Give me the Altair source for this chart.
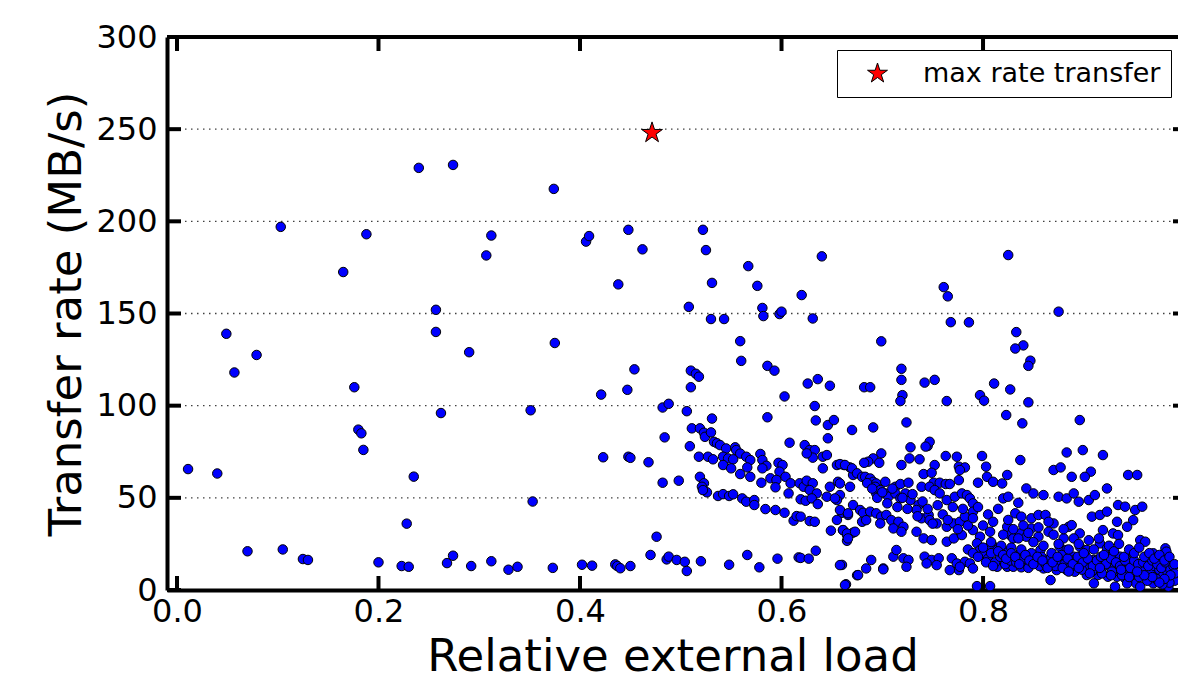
import altair as alt
import pandas as pd

# ---- data ----
load = [
    0.011, 0.04, 0.049, 0.057, 0.07, 0.079, 0.103, 0.105, 0.125, 0.13, 0.165, 0.176, 0.180, 0.183, 0.185, 0.188,
    0.2, 0.223, 0.23, 0.228, 0.235, 0.24, 0.257, 0.257, 0.262, 0.268, 0.274, 0.274, 0.29, 0.292, 0.307, 0.312,
    0.312, 0.329, 0.338, 0.351, 0.353, 0.373, 0.374, 0.375,
    0.406, 0.409, 0.448, 0.462, 0.438, 0.454, 0.421, 0.447, 0.423, 0.448, 0.45, 0.468, 0.482, 0.498, 0.482, 0.488,
    0.484, 0.402, 0.412, 0.435, 0.437, 0.44, 0.45, 0.47, 0.476, 0.486, 0.488, 0.496, 0.504, 0.506, 0.52,
    0.522, 0.525, 0.567, 0.531, 0.576, 0.64, 0.508, 0.581, 0.582, 0.53, 0.543, 0.559, 0.598, 0.6, 0.62, 0.631,
    0.56, 0.586, 0.593, 0.51, 0.515, 0.518, 0.51, 0.603, 0.626, 0.636, 0.648, 0.506, 0.531, 0.586, 0.633, 0.634,
    0.646, 0.652, 0.646, 0.67,
    0.511, 0.519, 0.523, 0.524, 0.53, 0.533, 0.536, 0.539, 0.545, 0.554, 0.555, 0.559, 0.565, 0.569, 0.579, 0.581,
    0.585, 0.509, 0.518, 0.527, 0.532, 0.542, 0.547, 0.552, 0.542, 0.55, 0.566, 0.581, 0.559, 0.569, 0.58, 0.519,
    0.523, 0.521, 0.526, 0.522, 0.537, 0.542, 0.548, 0.552, 0.561, 0.565, 0.573, 0.573, 0.584, 0.594, 0.603, 0.612,
    0.615, 0.619, 0.628, 0.633, 0.597, 0.601, 0.598, 0.589, 0.595, 0.604, 0.594, 0.607, 0.609, 0.608, 0.623, 0.628,
    0.633, 0.631, 0.625, 0.641, 0.645, 0.641, 0.655, 0.662, 0.668, 0.671, 0.618, 0.622, 0.625, 0.631, 0.628, 0.635,
    0.648, 0.656, 0.658, 0.655, 0.619, 0.624, 0.63, 0.636, 0.645, 0.653, 0.66, 0.666, 0.655, 0.649, 0.661, 0.665,
    0.665, 0.671,
    0.548, 0.566, 0.578, 0.596, 0.617, 0.619, 0.627, 0.634, 0.66, 0.664, 0.675,
    0.825, 0.761, 0.765, 0.875, 0.768, 0.786, 0.699, 0.833, 0.84, 0.832, 0.847, 0.845, 0.719, 0.719, 0.742, 0.752,
    0.682, 0.688, 0.72, 0.718, 0.764, 0.797, 0.801, 0.811, 0.827, 0.845, 0.823, 0.839, 0.896, 0.724, 0.691, 0.728,
    0.745, 0.747, 0.743, 0.699, 0.691, 0.686, 0.697, 0.682, 0.763, 0.774, 0.799, 0.837, 0.883, 0.899, 0.919, 0.727,
    0.737, 0.719, 0.752, 0.776, 0.782, 0.803, 0.87, 0.877, 0.907, 0.901, 0.888, 0.944, 0.953,
    0.658, 0.663, 0.670, 0.675, 0.680, 0.683, 0.688, 0.691, 0.694, 0.703, 0.713, 0.718, 0.726, 0.741, 0.749, 0.751,
    0.757, 0.763, 0.767, 0.776, 0.777, 0.795, 0.804, 0.810, 0.819, 0.824,
    0.658, 0.668, 0.693, 0.694, 0.698, 0.703, 0.706, 0.713, 0.718, 0.723, 0.728, 0.736, 0.739, 0.747, 0.752, 0.757,
    0.764, 0.772, 0.779, 0.784, 0.787, 0.790, 0.820, 0.825, 0.835, 0.843, 0.850, 0.860, 0.875, 0.883, 0.890, 0.895,
    0.905, 0.911, 0.923, 0.934, 0.941, 0.951, 0.958,
    0.658, 0.666, 0.671, 0.678, 0.681, 0.688, 0.694, 0.699, 0.704, 0.709, 0.716, 0.721, 0.734, 0.739, 0.746, 0.747,
    0.754, 0.764, 0.771, 0.777, 0.782, 0.790, 0.832, 0.838, 0.848, 0.855, 0.862, 0.870, 0.885, 0.908, 0.916, 0.923,
    0.933, 0.949,
    0.661, 0.665, 0.666, 0.673, 0.680, 0.684, 0.698, 0.711, 0.719, 0.734, 0.741, 0.749, 0.764, 0.771, 0.779, 0.790,
    0.797, 0.807, 0.809, 0.824, 0.827, 0.830, 0.837, 0.843, 0.848, 0.855, 0.865, 0.880, 0.888, 0.896, 0.919, 0.929,
    0.934, 0.943,
    0.658, 0.676, 0.684, 0.689, 0.701, 0.711, 0.714, 0.721, 0.726, 0.742, 0.749, 0.756, 0.769, 0.774, 0.776, 0.782,
    0.787, 0.790, 0.794, 0.797, 0.807, 0.814, 0.814, 0.820, 0.825, 0.830, 0.837, 0.843, 0.850, 0.857, 0.863, 0.870,
    0.876, 0.883, 0.890, 0.896, 0.903, 0.910, 0.916, 0.923, 0.929, 0.936, 0.943, 0.949, 0.956, 0.961, 0.969, 0.974,
    0.981, 0.982,
    0.663, 0.701, 0.724, 0.744, 0.754, 0.767, 0.777, 0.794, 0.807, 0.824, 0.830, 0.838, 0.848, 0.860, 0.867, 0.873,
    0.883, 0.891, 0.903, 0.914, 0.924, 0.933, 0.941, 0.949, 0.952, 0.959, 0.965, 0.972, 0.977, 0.982, 0.989, 0.910,
    0.931, 0.943, 0.956, 0.969, 0.984,
    0.80, 0.805, 0.812, 0.817, 0.822, 0.827, 0.833, 0.84, 0.845, 0.852, 0.856, 0.862, 0.867, 0.872, 0.877, 0.881,
    0.886, 0.892, 0.897, 0.901, 0.906, 0.911, 0.915, 0.92, 0.925, 0.93, 0.935, 0.939, 0.944, 0.948, 0.952, 0.957,
    0.961, 0.966, 0.97, 0.975, 0.979, 0.983, 0.987, 0.99, 0.985, 0.978, 0.972, 0.963, 0.955, 0.946, 0.938, 0.928,
    0.918, 0.908, 0.898, 0.888, 0.878, 0.868, 0.858, 0.848, 0.838, 0.828, 0.818, 0.808,
    0.785, 0.79, 0.795, 0.80, 0.803, 0.808, 0.81, 0.815, 0.82, 0.823, 0.828, 0.832, 0.836, 0.842, 0.846, 0.85,
    0.854, 0.859, 0.864, 0.869, 0.874, 0.879, 0.884, 0.889, 0.894, 0.899, 0.904, 0.909, 0.913, 0.917, 0.922, 0.927,
    0.932, 0.936, 0.941, 0.946, 0.95, 0.954, 0.959, 0.964, 0.968, 0.973, 0.977, 0.981, 0.986, 0.989, 0.99, 0.986,
    0.98, 0.975, 0.968, 0.96, 0.953, 0.945, 0.937, 0.927, 0.916, 0.906, 0.895, 0.885,
    0.685, 0.69, 0.695, 0.70, 0.705, 0.71, 0.715, 0.72, 0.725, 0.73, 0.735, 0.74, 0.745, 0.75, 0.755, 0.76,
    0.765, 0.77, 0.775, 0.78, 0.785, 0.79, 0.795, 0.80, 0.805, 0.81, 0.815, 0.82, 0.825, 0.83, 0.835, 0.84,
    0.845, 0.85, 0.855, 0.86, 0.865, 0.87, 0.875, 0.88, 0.885, 0.89, 0.895, 0.9, 0.905, 0.91, 0.915, 0.92,
    0.925, 0.93, 0.935, 0.94, 0.945, 0.95, 0.955, 0.96, 0.965, 0.97, 0.975, 0.98, 0.985, 0.99,
]
rate = [
    65.6, 63.2, 139, 118, 21, 127.5, 197, 22, 16.8, 16.3, 172.5, 110, 87, 85, 76, 193,
    15, 13, 12.6, 36, 61.5, 229, 152, 140, 96, 14.6, 18.6, 230.6, 129, 13, 181.5, 192.3,
    15.6, 11, 12.6, 97.5, 48, 12, 217.6, 134,
    189, 192, 195.4, 184.8, 165.8, 119.7, 106, 108.6, 72, 72.3, 71.7, 69.3, 58.2, 59.3, 99, 101,
    82.8, 13.7, 13.2, 13.9, 13, 11.8, 13, 19, 28.9, 16.6, 18.1, 16.3, 15.3, 10.3, 15.6,
    195.4, 184.4, 175.7, 166.6, 165, 181, 153.6, 153, 148.6, 147, 147, 135, 149.7, 151, 160, 147.3,
    124.3, 121.6, 119, 119, 117.3, 115.7, 110, 105, 112, 114.4, 110.8, 97, 93, 93.7, 99.8, 92,
    89.5, 92.2, 82.3, 86.8,
    87.7, 87.7, 85.3, 83.1, 85.5, 80.4, 79.6, 78.6, 76.8, 77.4, 75.9, 74, 72.3, 70.5, 73.8, 70.5,
    67.4, 78, 72.3, 72.3, 70.9, 72.3, 71.4, 70.9, 67.8, 66, 66.5, 66, 62.9, 61.4, 58.2, 61.4,
    57.9, 56, 53, 54.2, 51, 52, 51, 51.9, 49.7, 47.9, 48.8, 46.1, 43.9, 43.4, 41.9, 37.6,
    40.1, 39.8, 37.4, 37, 69, 67.8, 64.2, 60.6, 59.7, 61.4, 55.7, 52.4, 57.9, 79.9, 78.6, 75.9,
    75.9, 71.8, 74.1, 72.3, 73.2, 66, 67.8, 67.8, 66.5, 62.4, 57.9, 56, 59.3, 57.9, 54.2, 52.4,
    56, 58.7, 51.5, 48.8, 49.2, 48.4, 49.7, 46.6, 50.6, 49.7, 41.9, 40.7, 38, 32.2, 32.5, 29.8,
    26.7, 31.1,
    13.7, 19, 12.3, 17, 17.7, 17.4, 17, 21.3, 13.6, 3.1, 8,
    181.7, 164.3, 159.3, 151, 145.3, 145.2, 134.9, 139.9, 132.7, 131, 124.4, 121.6, 120, 114, 112.5, 114,
    110, 110, 105.7, 102.5, 102.5, 105.7, 102.7, 112, 108.8, 101.8, 94.9, 90.4, 92.2, 90.9, 88.2, 77.4,
    78.1, 80.4, 77.8, 74.1, 71.4, 69.6, 69, 69, 72.7, 72.3, 72.7, 70.5, 74.6, 75.9, 73.2, 71.4,
    70.9, 67.8, 67.8, 66.9, 66.5, 66.9, 65.1, 66.5, 64.2, 61.4, 61.4, 62.4, 62.4,
    68.3, 67.8, 66.0, 63.3, 61.4, 61.4, 60.5, 58.7, 57.8, 58.7, 56.0, 57.5, 58.2, 62.9, 63.6, 58.2,
    58.2, 57.5, 57.5, 59.6, 65.1, 58.2, 61.4, 58.7, 57.8, 62.4,
    57.8, 56.0, 56.0, 52.4, 54.2, 52.4, 50.6, 52.4, 49.7, 52.4, 48.8, 46.1, 56.0, 56.0, 54.2, 52.4,
    48.8, 50.6, 52.4, 51.5, 49.7, 47.0, 49.7, 50.6, 47.3, 55.1, 52.4, 51.5, 50.6, 49.7, 52.4, 47.9,
    48.8, 51.5, 55.1, 46.1, 45.2, 43.4, 45.2,
    43.4, 41.6, 46.1, 43.4, 41.9, 42.5, 41.6, 39.8, 40.7, 37.9, 37.0, 34.3, 43.4, 38.9, 40.7, 37.9,
    36.1, 34.3, 36.1, 37.0, 39.8, 42.5, 41.6, 39.8, 38.9, 40.7, 40.7, 36.1, 34.3, 39.8, 40.7, 42.5,
    37.0, 37.9,
    32.5, 30.7, 28.0, 31.6, 37.0, 37.9, 36.1, 33.4, 31.6, 31.6, 28.0, 27.1, 26.2, 28.0, 29.8, 32.5,
    28.9, 31.6, 24.4, 34.3, 29.8, 28.0, 30.7, 28.9, 33.4, 28.9, 31.6, 28.0, 35.2, 30.7, 32.5, 30.7,
    29.8, 34.3,
    13.5, 8.1, 11.7, 16.3, 11.7, 18.1, 21.7, 17.2, 16.3, 18.1, 16.3, 17.2, 17.2, 14.4, 10.8, 15.3,
    14.4, 11.7, 25.3, 21.7, 23.5, 21.7, 12.6, 16.3, 20.8, 18.1, 19.9, 14.4, 18.1, 21.7, 16.3, 14.4,
    23.5, 21.7, 18.1, 23.5, 21.7, 16.3, 25.3, 22.6, 19.9, 18.1, 16.3, 19.9, 27.1, 26.2, 19.9, 16.3,
    22.6, 20.8,
    2.7, 11.2, 12.6, 14.4, 13.5, 10.8, 12.6, 2.1, 2.1, 12.6, 12.6, 12.3, 14.4, 11.7, 5.4, 10.8,
    10.8, 9.9, 8.1, 8.1, 7.2, 7.2, 6.3, 8.1, 3.6, 10.8, 6.3, 9.9, 5.4, 7.2, 6.3, 3.6,
    1.8, 3.6, 1.8, 3.6, 1.8,
    19, 17, 15, 18, 14, 16, 15, 17, 12, 15, 13, 14, 17, 13, 16, 14,
    12, 15, 13, 16, 12, 14, 11, 13, 15, 12, 10, 13, 11, 14, 12, 9,
    12, 10, 13, 11, 8, 10, 7, 5, 4, 3, 6, 5, 7, 9, 8, 10,
    9, 10, 11, 16, 19, 20, 18, 20, 22, 23, 24, 26,
    22, 20, 18, 23, 15, 20, 13, 21, 19, 17, 20, 18, 14, 19, 16, 14,
    18, 16, 12, 15, 18, 12, 17, 14, 18, 15, 17, 13, 16, 18, 14, 17,
    15, 13, 16, 12, 16, 14, 15, 13, 16, 14, 12, 15, 11, 13, 9, 8,
    6, 4, 7, 8, 10, 7, 11, 8, 12, 9, 12, 10,
    58, 55, 50, 53, 47, 55, 45, 50, 44, 52, 40, 48, 44, 36, 46, 41,
    38, 45, 33, 44, 35, 39, 45, 35, 41, 37, 44, 30, 38, 33, 28, 35,
    31, 26, 34, 24, 37, 30, 25, 33, 22, 28, 25, 20, 27, 22, 28, 19,
    24, 21, 25, 18, 22, 20, 23, 18, 20, 17, 19, 16, 18, 14,
]

max_load = [0.4715]
max_rate = [248]
max_label = ["max rate transfer"]

y_ticks = [0, 50, 100, 150, 200, 250, 300]
y_grid = [50, 100, 150, 200, 250]
x_ticks = [0.0, 0.2, 0.4, 0.6, 0.8]

df = pd.DataFrame({"load": load, "rate": rate})
df_max = pd.DataFrame({"load": max_load, "rate": max_rate, "label": max_label})
df_yt = pd.DataFrame({"rate": y_ticks})
df_yg = pd.DataFrame({"rate": y_grid})
df_xt = pd.DataFrame({"load": x_ticks})

W, H = 1011, 553
FONT = "DejaVu Sans"
STAR = ("M0,-1L0.2245,-0.309L0.9511,-0.309L0.3633,0.118L0.5878,0.809L0,0.382"
        "L-0.5878,0.809L-0.3633,0.118L-0.9511,-0.309L-0.2245,-0.309Z")

xscale = alt.Scale(domain=[-0.0099, 0.9935], nice=False, zero=False)
yscale = alt.Scale(domain=[0, 300], nice=False)

xaxis = alt.Axis(
    orient="bottom", values=x_ticks, format=".1f", title="Relative external load",
    labelFontSize=32, titleFontSize=45, labelFont=FONT, titleFont=FONT,
    labelColor="black", titleColor="black", titleFontWeight="normal",
    ticks=False, grid=False, domain=True, domainColor="black", domainWidth=4,
    labelPadding=6, titlePadding=7, labelFlush=False, labelOverlap=False,
)
yaxis = alt.Axis(
    orient="left", values=y_ticks, title="Transfer rate (MB/s)",
    labelFontSize=32, titleFontSize=45, labelFont=FONT, titleFont=FONT,
    labelColor="black", titleColor="black", titleFontWeight="normal",
    ticks=False, grid=False, domain=True, domainColor="black", domainWidth=4,
    labelPadding=10, titlePadding=6, labelFlush=False, labelOverlap=False,
)


def X(**kw):
    return alt.X("load:Q", scale=xscale, axis=xaxis, **kw)


def Y(**kw):
    return alt.Y("rate:Q", scale=yscale, axis=yaxis, **kw)


grid = alt.Chart(df_yg).mark_rule(
    color="black", strokeWidth=1.3, strokeDash=[1.5, 4.5], opacity=0.75
).encode(y=Y(), x=alt.value(0), x2=alt.value(W))

points = alt.Chart(df).mark_point(
    shape="circle", filled=True, fill="#0000ff", stroke="black", strokeWidth=1,
    size=90, opacity=1
).encode(x=X(), y=Y())

tick_left = alt.Chart(df_yt).mark_rule(color="black", strokeWidth=4).encode(
    y=Y(), x=alt.value(0), x2=alt.value(14)
)
tick_right = alt.Chart(df_yt).mark_rule(color="black", strokeWidth=4).encode(
    y=Y(), x=alt.value(W - 5), x2=alt.value(W)
)
tick_bottom = alt.Chart(df_xt).mark_rule(color="black", strokeWidth=4).encode(
    x=X(), y=alt.value(H), y2=alt.value(H - 14)
)
tick_top = alt.Chart(df_xt).mark_rule(color="black", strokeWidth=4).encode(
    x=X(), y=alt.value(0), y2=alt.value(14)
)
top_spine = alt.Chart(df_xt).mark_rule(color="black", strokeWidth=4).encode(
    x=alt.value(0), x2=alt.value(W), y=alt.value(0)
)

star = alt.Chart(df_max).mark_point(
    shape=STAR, filled=True, stroke="black", strokeWidth=1, size=480, opacity=1
).encode(
    x=X(), y=Y(),
    color=alt.Color(
        "label:N",
        scale=alt.Scale(domain=max_label, range=["red"]),
        legend=alt.Legend(
            title=None, orient="none", legendX=670, legendY=13,
            labelFontSize=27, labelFont=FONT, labelColor="black", labelLimit=0,
            symbolType=STAR, symbolSize=440, symbolStrokeColor="black",
            symbolStrokeWidth=1, symbolOffset=17, labelOffset=32,
            padding=10, strokeColor="black", fillColor="white", cornerRadius=0,
        ),
    ),
)

chart = alt.layer(
    grid, points, tick_left, tick_right, tick_bottom, tick_top, top_spine, star
).properties(
    width=W, height=H,
    autosize=alt.AutoSizeParams(type="none"),
    padding={"left": 167, "top": 37, "right": 0, "bottom": 91},
    background="white",
).configure_view(stroke=None)

chart.save("out.html", embed_options={"renderer": "svg", "actions": False})
